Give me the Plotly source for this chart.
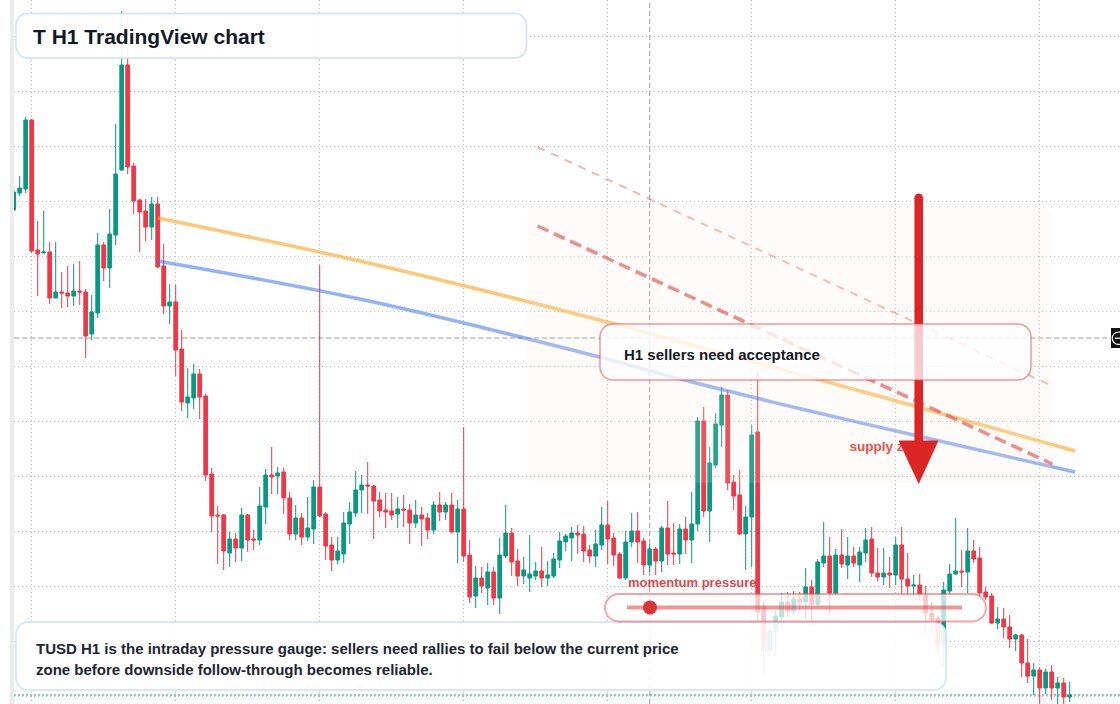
import plotly.graph_objects as go

# ---------------- data (H1 candles) ----------------
open_ = [27.90, 28.07, 28.11, 28.80, 27.50, 27.47, 27.48, 27.02, 27.08, 27.07,
         27.04, 27.09, 27.08, 26.66, 26.87, 27.55, 27.32, 27.65, 28.30, 29.35,
         28.34, 28.00, 27.89, 27.73, 27.96, 27.34, 26.94, 26.98, 26.51, 25.97,
         26.02, 26.26, 26.04, 25.26, 24.85, 24.85, 24.47, 24.61, 24.52, 24.85,
         24.61, 24.60, 24.93, 25.25, 25.24, 25.28, 25.02, 24.66, 24.82, 24.63,
         24.71, 25.13, 24.86, 24.55, 24.40, 24.46, 24.76, 24.87, 25.10, 25.15,
         25.14, 25.00, 24.90, 24.89, 24.86, 24.91, 24.90, 24.77, 24.85, 24.82,
         24.70, 24.95, 24.88, 24.95, 24.68, 24.91, 24.45, 24.04, 24.22, 24.12,
         24.28, 24.02, 24.44, 24.67, 24.39, 24.24, 24.22, 24.24, 24.29, 24.22,
         24.24, 24.40, 24.58, 24.62, 24.67, 24.66, 24.50, 24.44, 24.55, 24.75,
         24.62, 24.46, 24.22, 24.58, 24.69, 24.59, 24.35, 24.51, 24.39, 24.72,
         24.47, 24.46, 24.71, 24.60, 24.76, 25.79, 24.89, 25.35, 25.75, 26.05,
         25.18, 25.05, 24.66, 24.83, 25.68, 23.93, 23.49, 23.68, 23.83, 23.98,
         23.89, 24.01, 23.98, 24.13, 23.96, 24.37, 24.44, 24.07, 24.45, 24.35,
         24.44, 24.35, 24.47, 24.61, 24.27, 24.23, 24.27, 24.25, 24.55, 24.21,
         24.14, 24.15, 24.05, 23.87, 23.82, 23.55, 24.09, 24.26, 24.29, 24.28,
         24.49, 24.42, 24.08, 24.04, 23.77, 23.81, 23.73, 23.61, 23.65, 23.37,
         23.24, 23.30, 23.12, 23.28, 23.12, 23.17, 23.03]
high = [28.10, 28.24, 28.83, 28.81, 27.79, 27.89, 27.58, 27.58, 27.28, 27.34,
        27.36, 27.39, 27.11, 27.05, 27.67, 27.58, 27.91, 28.76, 29.89, 29.85,
        28.37, 28.01, 28.01, 28.03, 28.03, 27.56, 27.16, 27.15, 26.70, 26.32,
        26.36, 26.31, 26.06, 25.32, 24.94, 24.86, 24.68, 24.67, 24.92, 24.86,
        24.70, 25.13, 25.31, 25.53, 25.33, 25.32, 25.08, 24.95, 24.87, 25.03,
        25.20, 27.35, 24.88, 24.63, 24.63, 24.88, 24.98, 25.29, 25.25, 25.38,
        25.15, 25.08, 25.07, 25.07, 25.03, 25.05, 24.96, 25.00, 24.93, 24.87,
        24.99, 25.08, 24.98, 25.07, 25.00, 25.73, 24.60, 24.34, 24.33, 24.37,
        24.33, 24.62, 24.95, 24.72, 24.51, 24.43, 24.65, 24.38, 24.53, 24.39,
        24.47, 24.68, 24.66, 24.73, 24.75, 24.74, 24.55, 24.70, 24.93, 24.99,
        24.67, 24.48, 24.69, 24.87, 24.88, 24.62, 24.56, 24.53, 24.74, 24.99,
        24.77, 24.76, 24.83, 25.08, 25.83, 25.93, 25.53, 25.87, 26.13, 26.10,
        25.25, 25.30, 24.94, 25.75, 26.28, 23.98, 23.74, 23.90, 24.07, 24.08,
        24.09, 24.08, 24.32, 24.20, 24.41, 24.78, 24.63, 24.51, 24.71, 24.63,
        24.53, 24.53, 24.72, 24.73, 24.52, 24.52, 24.43, 24.63, 24.73, 24.47,
        24.25, 24.26, 24.14, 23.98, 23.85, 24.18, 24.36, 24.82, 24.50, 24.72,
        24.60, 24.53, 24.13, 24.07, 23.93, 23.92, 23.85, 23.66, 23.66, 23.61,
        23.37, 23.33, 23.31, 23.35, 23.23, 23.22, 23.18]
low = [27.89, 28.04, 28.07, 27.47, 27.04, 27.47, 26.96, 27.02, 26.92, 26.93,
       26.94, 26.95, 26.42, 26.60, 26.82, 27.19, 27.12, 27.55, 28.29, 28.26,
       27.86, 27.48, 27.59, 27.60, 27.32, 26.86, 26.76, 26.24, 25.89, 25.82,
       25.91, 25.81, 25.19, 24.68, 24.36, 24.30, 24.33, 24.38, 24.39, 24.48,
       24.50, 24.55, 24.76, 25.06, 25.06, 24.86, 24.60, 24.60, 24.55, 24.59,
       24.56, 24.83, 24.40, 24.29, 24.36, 24.37, 24.56, 24.83, 24.87, 24.86,
       24.61, 24.83, 24.72, 24.80, 24.72, 24.73, 24.56, 24.72, 24.54, 24.61,
       24.66, 24.79, 24.80, 24.67, 24.37, 24.38, 23.97, 23.92, 24.07, 23.95,
       23.95, 23.86, 24.42, 24.24, 24.14, 24.16, 24.08, 24.20, 24.13, 24.14,
       24.22, 24.32, 24.49, 24.39, 24.46, 24.38, 24.37, 24.33, 24.50, 24.36,
       24.34, 24.21, 24.20, 24.53, 24.37, 24.25, 24.28, 24.25, 24.28, 24.35,
       24.35, 24.36, 24.46, 24.37, 24.69, 24.83, 24.58, 25.32, 25.53, 25.10,
       24.90, 24.65, 24.30, 24.33, 23.76, 23.27, 23.44, 23.44, 23.70, 23.83,
       23.86, 23.90, 23.82, 23.73, 23.93, 24.33, 23.87, 24.06, 24.32, 24.21,
       24.33, 24.18, 24.38, 24.23, 24.19, 24.15, 24.12, 24.15, 24.06, 24.05,
       24.03, 24.00, 23.65, 23.65, 23.47, 23.33, 24.06, 24.25, 24.13, 24.07,
       24.37, 24.04, 24.00, 23.76, 23.71, 23.62, 23.52, 23.49, 23.23, 23.17,
       23.05, 22.92, 23.06, 23.00, 22.92, 22.92, 22.98]
close = [28.08, 28.12, 28.80, 27.49, 27.46, 27.48, 27.02, 27.08, 27.07, 27.04,
         27.09, 27.08, 26.64, 26.88, 27.55, 27.32, 27.66, 28.26, 29.35, 28.33,
         27.99, 27.88, 27.73, 27.96, 27.33, 26.94, 26.98, 26.50, 25.98, 26.03,
         26.26, 26.03, 25.25, 24.84, 24.84, 24.49, 24.61, 24.52, 24.85, 24.60,
         24.60, 24.94, 25.25, 25.23, 25.27, 25.02, 24.66, 24.82, 24.63, 24.72,
         25.13, 24.84, 24.54, 24.40, 24.49, 24.77, 24.88, 25.10, 25.15, 25.14,
         24.99, 24.89, 24.88, 24.85, 24.91, 24.90, 24.77, 24.85, 24.81, 24.70,
         24.95, 24.88, 24.95, 24.68, 24.91, 24.44, 24.03, 24.22, 24.14, 24.28,
         24.02, 24.45, 24.67, 24.38, 24.24, 24.30, 24.26, 24.29, 24.22, 24.25,
         24.41, 24.59, 24.64, 24.67, 24.65, 24.49, 24.44, 24.56, 24.75, 24.61,
         24.45, 24.22, 24.58, 24.69, 24.58, 24.35, 24.51, 24.39, 24.72, 24.46,
         24.46, 24.71, 24.60, 24.76, 25.79, 24.89, 25.37, 25.76, 26.05, 25.17,
         25.04, 24.66, 24.83, 25.65, 23.88, 23.49, 23.69, 23.84, 23.98, 23.89,
         24.01, 23.98, 24.13, 23.96, 24.38, 24.44, 24.07, 24.45, 24.36, 24.44,
         24.37, 24.48, 24.60, 24.27, 24.23, 24.27, 24.25, 24.55, 24.21, 24.14,
         24.15, 24.06, 23.87, 23.80, 23.55, 24.10, 24.26, 24.29, 24.28, 24.49,
         24.41, 24.07, 24.03, 23.77, 23.81, 23.73, 23.61, 23.65, 23.37, 23.24,
         23.30, 23.12, 23.28, 23.12, 23.17, 23.03, 23.05]
bars = list(range(len(close)))

# moving-average style guide lines (bar index, price)
fast_x = [24, 57.7, 94.4, 150.7, 176.9]
fast_y = [27.82, 27.39, 26.85, 25.93, 25.49]
slow_x = [24, 57.7, 94.4, 111.1, 132.7, 150.7, 176.9]
slow_y = [27.39, 27.01, 26.48, 26.21, 25.89, 25.64, 25.28]

# descending trend channel (dashed)
trend_x = [87.3, 173.1]
trend_upper = [28.53, 26.14]
trend_lower = [27.74, 25.36]

crosshair_bar = 106
crosshair_price = 26.62
label_bar, label_price = 139.3, 25.52

# ---------------- layout helpers ----------------
W, H = 1120, 704
ML = 14
PW = W - ML
GREEN, RED = "#089981", "#F23645"
FONT = "Liberation Sans, Arial, sans-serif"
GRID = "#bdbdbd"


def px(x):
    return (x - ML) / PW


def py(y):
    return 1 - y / H


def P(x, y):
    return f"{px(x):.6f},{py(y):.6f}"


KAP = 0.5523


def rrect(x0, y0, x1, y1, r):
    k = r * KAP
    return (f"M {P(x0 + r, y0)} L {P(x1 - r, y0)} "
            f"C {P(x1 - r + k, y0)} {P(x1, y0 + r - k)} {P(x1, y0 + r)} "
            f"L {P(x1, y1 - r)} "
            f"C {P(x1, y1 - r + k)} {P(x1 - r + k, y1)} {P(x1 - r, y1)} "
            f"L {P(x0 + r, y1)} "
            f"C {P(x0 + r - k, y1)} {P(x0, y1 - r + k)} {P(x0, y1 - r)} "
            f"L {P(x0, y0 + r)} "
            f"C {P(x0, y0 + r - k)} {P(x0 + r - k, y0)} {P(x0 + r, y0)} Z")


fig = go.Figure()

fig.add_trace(go.Candlestick(
    x=bars, open=open_, high=high, low=low, close=close,
    increasing=dict(line=dict(color=GREEN, width=1), fillcolor=GREEN),
    decreasing=dict(line=dict(color=RED, width=1), fillcolor=RED),
    whiskerwidth=0, hoverinfo="skip", showlegend=False))

fig.add_trace(go.Scatter(x=fast_x, y=fast_y, mode="lines",
                         line=dict(color="rgba(255,165,30,0.62)", width=3.5, shape="spline", smoothing=1),
                         hoverinfo="skip", showlegend=False))
fig.add_trace(go.Scatter(x=slow_x, y=slow_y, mode="lines",
                         line=dict(color="rgba(60,115,245,0.55)", width=3.5, shape="spline", smoothing=1),
                         hoverinfo="skip", showlegend=False))
fig.add_trace(go.Scatter(x=trend_x, y=trend_upper, mode="lines",
                         line=dict(color="rgba(230,50,50,0.36)", width=2, dash="8px,7px"),
                         hoverinfo="skip", showlegend=False))
fig.add_trace(go.Scatter(x=trend_x, y=trend_lower, mode="lines",
                         line=dict(color="rgba(222,40,40,0.6)", width=3.5, dash="12px,6px"),
                         hoverinfo="skip", showlegend=False))
fig.add_trace(go.Scatter(x=[label_bar], y=[label_price], mode="text",
                         text=["<b>supply zone</b>"], textposition="middle right",
                         textfont=dict(family=FONT, size=13.5, color="#E53935"),
                         hoverinfo="skip", showlegend=False))

shapes = []
# crosshair and last-price line (under the candles)
shapes.append(dict(type="line", xref="x", yref="paper", x0=crosshair_bar, x1=crosshair_bar,
                   y0=0, y1=1, line=dict(color="#9a9a9a", width=1, dash="5px,3px"), layer="below"))
shapes.append(dict(type="line", xref="paper", yref="y", x0=0, x1=px(1111),
                   y0=crosshair_price, y1=crosshair_price,
                   line=dict(color="#9a9a9a", width=1, dash="5px,3px"), layer="below"))
shapes.append(dict(type="line", xref="paper", yref="y", x0=0, x1=1,
                   y0=close[-1], y1=close[-1],
                   line=dict(color=GREEN, width=1, dash="2px,2px"), layer="below"))

# faint supply zone
shapes.append(dict(type="path", xref="paper", yref="paper", path=rrect(527, 207, 1052, 483, 10),
                   fillcolor="rgba(245,225,215,0.15)", line=dict(width=0), layer="above"))
# big red arrow
xc, hw, yt, yb = 918.7, 4.3, 193.5, 443
k = hw * KAP
shaft = (f"M {P(xc - hw, yb)} L {P(xc - hw, yt + hw)} "
         f"C {P(xc - hw, yt + hw - k)} {P(xc - k, yt)} {P(xc, yt)} "
         f"C {P(xc + k, yt)} {P(xc + hw, yt + hw - k)} {P(xc + hw, yt + hw)} "
         f"L {P(xc + hw, yb)} Z")
shapes.append(dict(type="path", xref="paper", yref="paper", path=shaft,
                   fillcolor="#DC2626", line=dict(width=0), layer="above"))
head = f"M {P(898.5, 440.5)} L {P(938.5, 440.5)} L {P(xc, 484)} Z"
shapes.append(dict(type="path", xref="paper", yref="paper", path=head,
                   fillcolor="#DC2626", line=dict(width=0), layer="above"))
# H1 note box
shapes.append(dict(type="path", xref="paper", yref="paper", path=rrect(600, 324, 1031, 380, 13),
                   fillcolor="rgba(255,255,255,0.76)",
                   line=dict(color="rgba(239,68,68,0.55)", width=1.5), layer="above"))
# bottom text box
shapes.append(dict(type="path", xref="paper", yref="paper", path=rrect(16, 622, 946, 690, 12),
                   fillcolor="rgba(255,255,255,0.9)",
                   line=dict(color="rgba(200,220,250,0.9)", width=1.5), layer="above"))
# momentum pill
shapes.append(dict(type="path", xref="paper", yref="paper", path=rrect(605, 594, 986, 621.5, 13.7),
                   fillcolor="rgba(255,255,255,0.72)",
                   line=dict(color="rgba(239,68,68,0.5)", width=1.8), layer="above"))
shapes.append(dict(type="line", xref="paper", yref="paper", x0=px(627), x1=px(962),
                   y0=py(607.5), y1=py(607.5),
                   line=dict(color="rgba(230,60,60,0.55)", width=4), layer="above"))
shapes.append(dict(type="circle", xref="paper", yref="paper", x0=px(643), x1=px(657),
                   y0=py(614.5), y1=py(600.5), fillcolor="#DF3333",
                   line=dict(width=0), layer="above"))
# title box
shapes.append(dict(type="path", xref="paper", yref="paper", path=rrect(16, 13.5, 526.5, 58, 12),
                   fillcolor="rgba(255,255,255,0.9)",
                   line=dict(color="rgba(200,220,250,0.9)", width=1.5), layer="above"))
# left frame strip
shapes.append(dict(type="rect", xref="paper", yref="paper", x0=px(10), x1=px(14),
                   y0=0, y1=1, fillcolor="#ebebeb", line=dict(width=0), layer="above"))
# crosshair price label stub at right edge
shapes.append(dict(type="rect", xref="paper", yref="paper", x0=px(1111), x1=px(1126),
                   y0=py(348), y1=py(328), fillcolor="#111111", line=dict(width=0), layer="above"))
shapes.append(dict(type="circle", xref="paper", yref="paper", x0=px(1112.2), x1=px(1124.6),
                   y0=py(344.4), y1=py(332), line=dict(color="white", width=1.2), layer="above"))
shapes.append(dict(type="line", xref="paper", yref="paper", x0=px(1115), x1=px(1121.5),
                   y0=py(338.2), y1=py(338.2), line=dict(color="white", width=1.2), layer="above"))

annotations = [
    dict(text="<b>T H1 TradingView chart</b>", x=px(31), y=py(36), xanchor="left", yanchor="middle",
         font=dict(family=FONT, size=21, color="#111827")),
    dict(text="<b>H1 sellers need acceptance</b>", x=px(621.5), y=py(354), xanchor="left",
         yanchor="middle", font=dict(family=FONT, size=15, color="#111827")),
    dict(text="<b>momentum pressure</b>", x=px(626), y=py(582.5), xanchor="left", yanchor="middle",
         font=dict(family=FONT, size=13, color="rgba(222,42,42,0.88)")),
    dict(text="<b>TUSD H1 is the intraday pressure gauge: sellers need rallies to fail below the current price</b>",
         x=px(33.5), y=py(648.5), xanchor="left", yanchor="middle",
         font=dict(family=FONT, size=15, color="#1e2533")),
    dict(text="<b>zone before downside follow-through becomes reliable.</b>",
         x=px(33.5), y=py(669.5), xanchor="left", yanchor="middle",
         font=dict(family=FONT, size=15, color="#1e2533")),
]
for a in annotations:
    a.update(xref="paper", yref="paper", showarrow=False)

fig.update_layout(
    width=W, height=H,
    margin=dict(l=ML, r=0, t=0, b=0, pad=0),
    paper_bgcolor="white", plot_bgcolor="white",
    showlegend=False, hovermode=False,
    boxgap=0.38, boxgroupgap=0,
    shapes=shapes, annotations=annotations,
    xaxis=dict(range=[0.05, 0.05 + PW / 6], showgrid=True, gridcolor=GRID, griddash="1px,3px",
               gridwidth=1, tick0=3, dtick=24, showticklabels=False, ticks="", zeroline=False,
               showline=False, rangeslider=dict(visible=False), fixedrange=True, automargin=False),
    yaxis=dict(range=[22.96, 30.0], showgrid=True, gridcolor=GRID, griddash="1px,3px",
               gridwidth=1, tick0=29.633, dtick=0.55, showticklabels=False, ticks="", zeroline=False,
               showline=False, fixedrange=True, automargin=False),
)

fig.write_html("out.html", config={"displayModeBar": False})
